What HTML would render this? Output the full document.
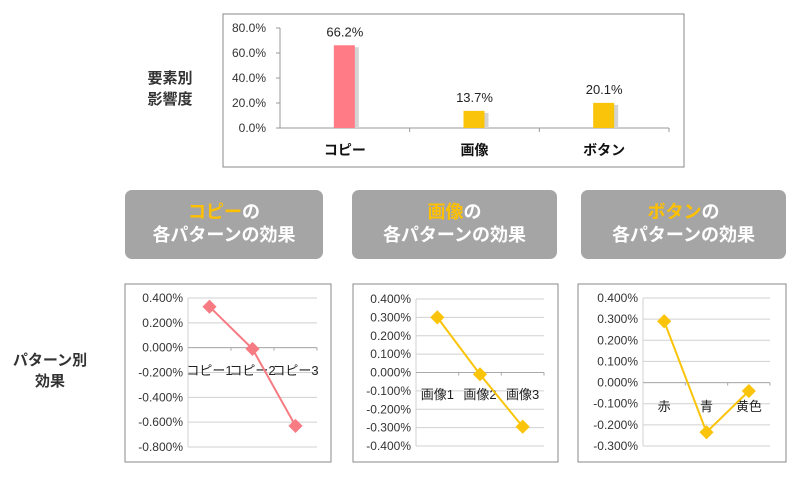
<!DOCTYPE html>
<html><head><meta charset="utf-8"><style>
body{margin:0;background:#fff;width:800px;height:475px;overflow:hidden;font-family:"Liberation Sans","Noto Sans CJK JP",sans-serif}
svg text{font-family:"Liberation Sans","Noto Sans CJK JP",sans-serif}
</style></head><body>
<svg id="s" width="800" height="475" xmlns="http://www.w3.org/2000/svg">
<text x="170" y="83" font-size="15" font-weight="bold" fill="#333" text-anchor="middle">要素別</text>
<text x="170" y="104" font-size="15" font-weight="bold" fill="#333" text-anchor="middle">影響度</text>
<text x="50" y="365" font-size="15" font-weight="bold" fill="#333" text-anchor="middle">パターン別</text>
<text x="50" y="386" font-size="15" font-weight="bold" fill="#333" text-anchor="middle">効果</text>
<rect x="223" y="14" width="461" height="153" fill="#fff" stroke="#888"/>
<g id="bars"></g>
<g id="heads"></g>
<g id="lines"></g>
</svg>
<script>
const barCats=["コピー","画像","ボタン"];
const barVals=[66.2,13.7,20.1];
const barTicks=[0,20,40,60,80];
const copyCats=["コピー1","コピー2","コピー3"];
const copyVals=[0.33,-0.01,-0.63];
const copyTicks=[0.4,0.2,0,-0.2,-0.4,-0.6,-0.8];
const imgCats=["画像1","画像2","画像3"];
const imgVals=[0.30,-0.01,-0.295];
const imgTicks=[0.4,0.3,0.2,0.1,0,-0.1,-0.2,-0.3,-0.4];
const btnCats=["赤","青","黄色"];
const btnVals=[0.29,-0.235,-0.04];
const btnTicks=[0.4,0.3,0.2,0.1,0,-0.1,-0.2,-0.3];
const NS="http://www.w3.org/2000/svg";
function mk(p,t,a){const e=document.createElementNS(NS,t);for(const k in a)e.setAttribute(k,a[k]);p.appendChild(e);return e;}
(function(){
const g=document.getElementById('bars');
const x0=280,x1=669,y0=128,y1=28,vmax=80;
const y=v=>y0-(v/vmax)*(y0-y1);const cw=(x1-x0)/barCats.length;
barTicks.forEach(t=>{const l=mk(g,'text',{x:x0-14,y:y(t)+4,'font-size':12,fill:'#333','text-anchor':'end'});l.textContent=t.toFixed(1)+'%';


mk(g,'line',{x1:x0-4,x2:x0,y1:y(t),y2:y(t),stroke:'#999'});});
mk(g,'line',{x1:x0,x2:x0,y1:y1,y2:y0,stroke:'#999'});
mk(g,'line',{x1:x0,x2:x1,y1:y0,y2:y0,stroke:'#999'});
barCats.forEach((c,i)=>{const cx=x0+cw*(i+0.5);
mk(g,'line',{x1:x0+cw*(i+1),x2:x0+cw*(i+1),y1:y0,y2:y0+4,stroke:'#999'});
mk(g,'rect',{x:cx-8,y:y(barVals[i])+2,width:22,height:y0-y(barVals[i])-2,fill:'#d4d4d4'});
const r=mk(g,'rect',{x:cx-11,y:y(barVals[i]),width:21,height:y0-y(barVals[i]),fill:i==0?'#ff7b86':'#f9c40a'});


const v=mk(g,'text',{x:cx,y:y(barVals[i])-9,'font-size':13,fill:'#222','text-anchor':'middle'});v.textContent=barVals[i].toFixed(1)+'%';


const t=mk(g,'text',{x:cx,y:155,'font-size':14,'font-weight':'bold',fill:'#111','text-anchor':'middle'});t.textContent=c;


});
})();
[["コピー",125,198],["画像",352,205],["ボタン",581,205]].forEach(([w,x,wd])=>{
const g=document.getElementById('heads');
const r=mk(g,'rect',{x:x,y:190,width:wd,height:69,rx:7,fill:'#a5a5a5'});


const t1=mk(g,'text',{x:x+wd/2,y:218,'font-size':18,'font-weight':'bold',fill:'#fff','text-anchor':'middle'});
t1.innerHTML='<tspan fill="#ffc000">'+w+'</tspan>の';


const t2=mk(g,'text',{x:x+wd/2,y:241,'font-size':18,'font-weight':'bold',fill:'#fff','text-anchor':'middle'});t2.textContent='各パターンの効果';


});
function line(cfg){
const g=mk(document.getElementById('lines'),'g',{});


mk(g,'rect',{x:cfg.bx,y:284,width:cfg.bw,height:178,fill:'#fff',stroke:'#888'});
const ticks=cfg.ticks,tmax=ticks[0],tmin=ticks[ticks.length-1];
const y=v=>cfg.yt+(tmax-v)/(tmax-tmin)*(cfg.yb-cfg.yt);
const cw=(cfg.x1-cfg.x0)/cfg.cats.length;const x=i=>cfg.x0+cw*(i+0.5);
ticks.forEach(t=>{mk(g,'line',{x1:cfg.x0,x2:cfg.x1,y1:y(t),y2:y(t),stroke:'#d0d0d0'});
const l=mk(g,'text',{x:cfg.x0-5,y:y(t)+4,'font-size':12,fill:'#333','text-anchor':'end'});l.textContent=t.toFixed(3)+'%';

});
mk(g,'line',{x1:cfg.x0,x2:cfg.x0,y1:cfg.yt,y2:cfg.yb,stroke:'#d0d0d0'});
mk(g,'line',{x1:cfg.x0,x2:cfg.x1,y1:y(0),y2:y(0),stroke:'#aaa'});
cfg.cats.forEach((c,i)=>{mk(g,'line',{x1:cfg.x0+cw*(i+1),x2:cfg.x0+cw*(i+1),y1:y(0),y2:y(0)+3,stroke:'#aaa'});
const t=mk(g,'text',{x:x(i),y:cfg.ly,'font-size':13,fill:'#222','text-anchor':'middle'});t.textContent=c;

});
mk(g,'polyline',{points:cfg.vals.map((v,i)=>x(i)+','+y(v)).join(' '),fill:'none',stroke:cfg.color,'stroke-width':2});
cfg.vals.forEach((v,i)=>{const p=mk(g,'rect',{x:x(i)-5,y:y(v)-5,width:10,height:10,fill:cfg.color,transform:'rotate(45 '+x(i)+' '+y(v)+')'});

});
}
line({name:'copy-pattern-chart',bx:125,bw:206,x0:188,x1:317,yt:298,yb:447,ticks:copyTicks,cats:copyCats,vals:copyVals,color:'#f77b82',ly:375});
line({name:'image-pattern-chart',bx:353,bw:205,x0:416,x1:544,yt:299,yb:446,ticks:imgTicks,cats:imgCats,vals:imgVals,color:'#f9c40a',ly:399});
line({name:'button-pattern-chart',bx:578,bw:208,x0:643,x1:770,yt:298,yb:446,ticks:btnTicks,cats:btnCats,vals:btnVals,color:'#f9c40a',ly:411});
</script>
</body></html>
